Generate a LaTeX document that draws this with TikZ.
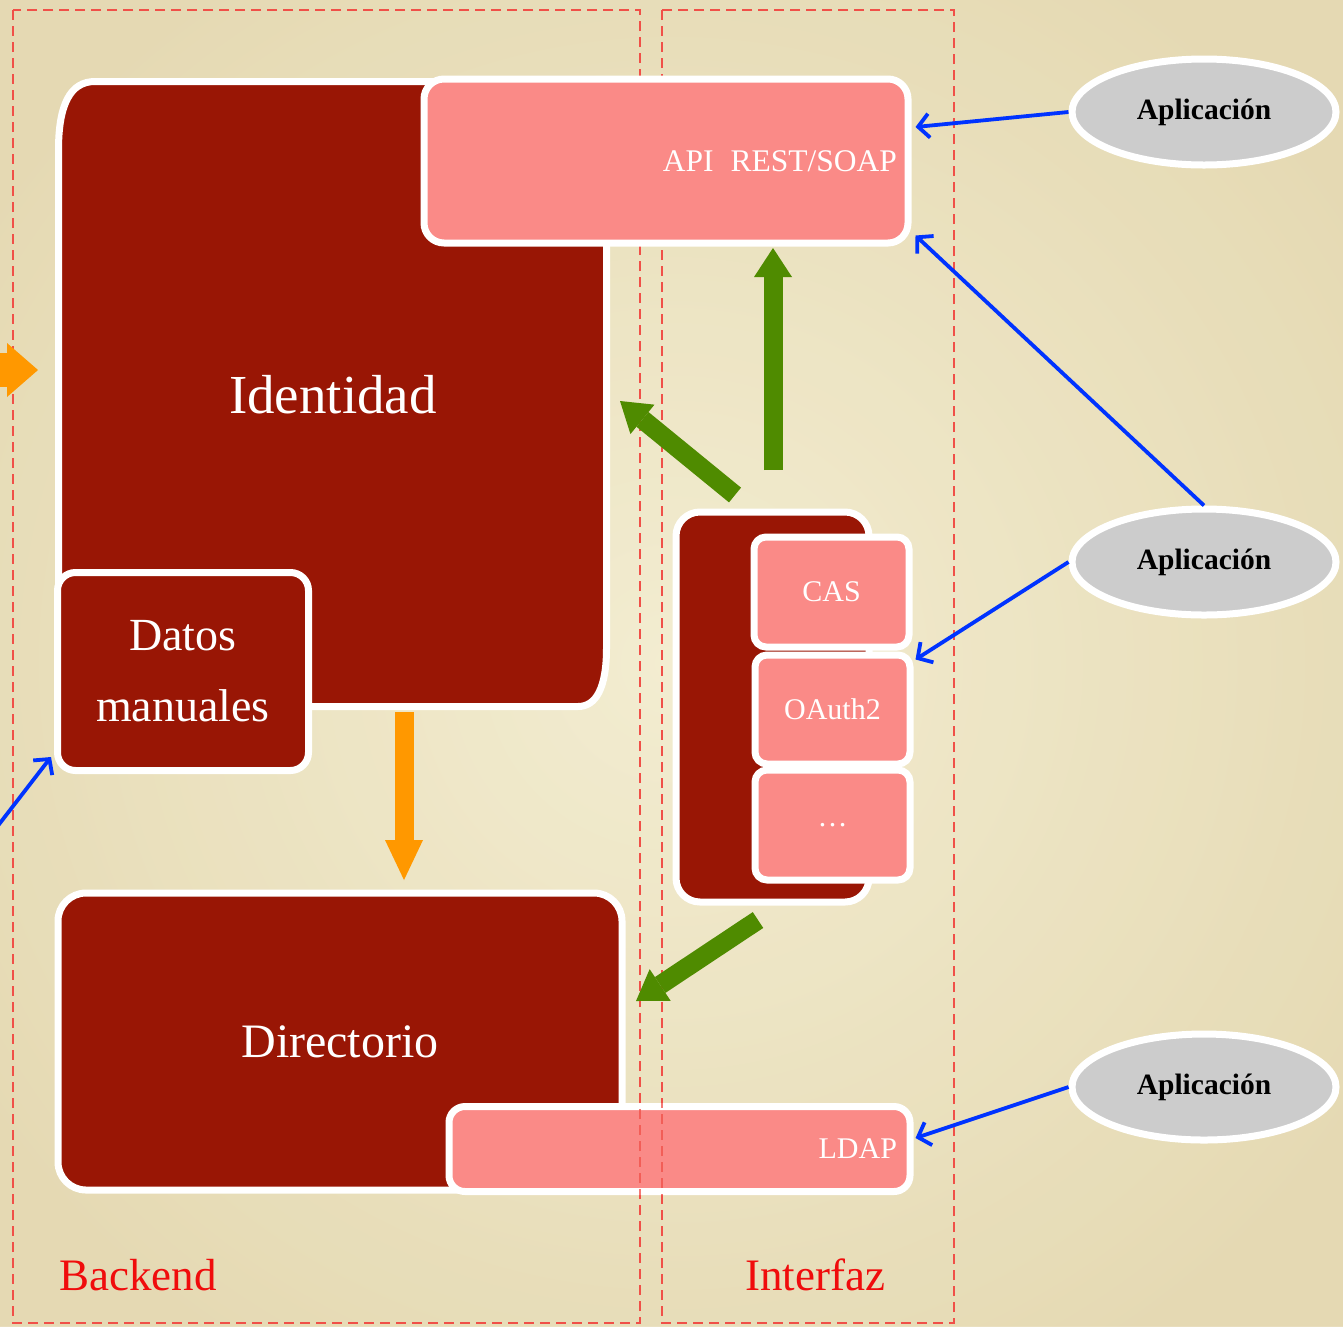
\documentclass[tikz,border=0pt]{standalone}
\usepackage{fontspec}
\setmainfont{Liberation Serif}
\usetikzlibrary{arrows.meta,shapes.geometric,calc}
\definecolor{bgpaper}{RGB}{243,237,209}
\definecolor{bgdark}{RGB}{226,213,172}
\definecolor{boxred}{RGB}{153,22,5}
\definecolor{boxpink}{RGB}{250,138,135}
\definecolor{appgray}{RGB}{204,204,204}
\definecolor{linkblue}{RGB}{0,51,255}
\definecolor{flowgreen}{RGB}{79,139,0}
\definecolor{floworange}{RGB}{255,152,0}
\definecolor{zonered}{RGB}{240,80,72}
\definecolor{labelred}{RGB}{240,12,12}
\begin{document}
\begin{tikzpicture}[x=1pt,y=-1pt,
  darkbox/.style={draw=white,line width=7pt,fill=boxred,inner sep=0pt,text=white},
  pinkbox/.style={draw=white,line width=7pt,fill=boxpink,inner sep=0pt,text=white,
    font=\fontsize{30}{36}\selectfont,rounded corners=14pt},
  appnode/.style={ellipse,draw=white,line width=7pt,fill=appgray,minimum width=264pt,
    minimum height=106pt,inner sep=0pt,font=\fontsize{29.5}{34}\selectfont\bfseries},
  zone/.style={draw=zonered,line width=2.8pt,dash pattern=on 10pt off 6pt},
  bluearrow/.style={draw=linkblue,line width=3.8pt,-{Straight Barb[length=11pt,width=24pt]}},
  greenarrow/.style={draw=flowgreen,line width=19pt,-{Triangle[length=29pt,width=38pt,line width=0pt]}},
  orangearrow/.style={draw=floworange,line width=19pt,-{Triangle[length=40pt,width=38pt,line width=0pt]}},
  zonelabel/.style={text=labelred,font=\fontsize{45}{54}\selectfont,inner sep=0pt,anchor=base west}
]
\useasboundingbox (0,0) rectangle (1343,1326);
\clip (0,0) rectangle (1343,1326);
% background
\fill[bgpaper] (0,0) rectangle (1343,1326);
\shade[inner color=bgpaper,outer color=bgdark,opacity=0.8] (-150,-150) rectangle (1493,1476);

% zones
\draw[zone] (13,10) rectangle (640,1323);
\draw[zone] (662,10) rectangle (954,1323);

% Identidad
\draw[draw=white,line width=7pt,fill=boxred]
  (58.5,706.5) -- (58.5,150) .. controls (58.5,105) and (70,81.5) .. (95,81.5)
  -- (606.5,81.5) -- (606.5,648) .. controls (606.5,688) and (596,706.5) .. (578,706.5) -- cycle;
\node[text=white,font=\fontsize{55}{60}\selectfont,inner sep=0pt] (ident) at (333,395) {Identidad};

% API
\node[pinkbox,minimum width=484pt,minimum height=164pt,text width=462pt,align=right,rounded corners=20pt,
  font=\fontsize{31.5}{36}\selectfont]
  (api) at (666,161) {API\hspace{17pt}REST/SOAP};

% Datos manuales
\node[darkbox,rounded corners=18pt,minimum width=251pt,minimum height=198pt,align=center,
  font=\fontsize{46}{71}\selectfont] (datos) at (183,671.5) {Datos\\manuales};

% orange arrows
\coordinate (orA) at (404,712);
\coordinate (orB) at (404,880);
\draw[orangearrow] (orA) -- (orB);
\coordinate (orC) at (-30,370);
\coordinate (orD) at (38,370);
\draw[draw=floworange,line width=34pt,-{Triangle[length=31pt,width=54pt,line width=0pt]}] (orC) -- (orD);

% Directorio
\node[darkbox,rounded corners=28pt,minimum width=564pt,minimum height=297pt,
  font=\fontsize{48}{56}\selectfont] (dir) at (340,1041.5) {Directorio};

% LDAP
\node[pinkbox,rounded corners=16pt,minimum width=461pt,minimum height=85pt,text width=435pt,
  align=right] (ldap) at (679.5,1149) {LDAP};
% zone lines seen through the LDAP box
\begin{scope}
  \clip (449,1100) rectangle (910,1200);
  \draw[zone,opacity=0.75] (13,10) rectangle (640,1323);
  \draw[zone,opacity=0.75] (662,10) rectangle (954,1323);
\end{scope}

% interface container
\node[darkbox,rounded corners=24pt,minimum width=193pt,minimum height=390pt] (cont) at (772.5,707) {};
\node[pinkbox,rounded corners=12pt,minimum width=155pt,minimum height=110pt] (cas) at (831.5,592) {CAS};
\node[pinkbox,rounded corners=12pt,minimum width=155pt,minimum height=109pt] (oauth) at (832.5,709.5) {OAuth2};
\node[pinkbox,rounded corners=12pt,minimum width=155pt,minimum height=110pt] (dots) at (832.5,825) {\dots};

% green arrows
\coordinate (gA) at (773,470);
\coordinate (gB) at (773,248);
\draw[greenarrow] (gA) -- (gB);
\coordinate (gC) at (735,495);
\coordinate (gD) at (620,401);
\draw[greenarrow] (gC) -- (gD);
\coordinate (gE) at (758,920);
\coordinate (gF) at (636,1001);
\draw[greenarrow] (gE) -- (gF);

% applications
\node[appnode] (app1) at (1204,112) {Aplicación};
\node[appnode] (app2) at (1204,562) {Aplicación};
\node[appnode] (app3) at (1204,1087) {Aplicación};

% blue arrows
\draw[bluearrow] (app1.west) -- ($(api.east)+(4,-34)$);
\draw[bluearrow] (app2.north) -- ($(api.south east)+(4,-11)$);
\draw[bluearrow] (app2.west) -- ($(oauth.north east)+(2,8)$);
\draw[bluearrow] (app3.west) -- ($(ldap.east)+(2,-11)$);
\coordinate (extin) at (-10,836);
\draw[bluearrow] (extin) -- ($(datos.south west)+(-3,-17)$);

% zone labels
\node[zonelabel] (backend) at (59,1290) {Backend};
\node[zonelabel] (interfaz) at (745,1290) {Interfaz};
\end{tikzpicture}
\end{document}
